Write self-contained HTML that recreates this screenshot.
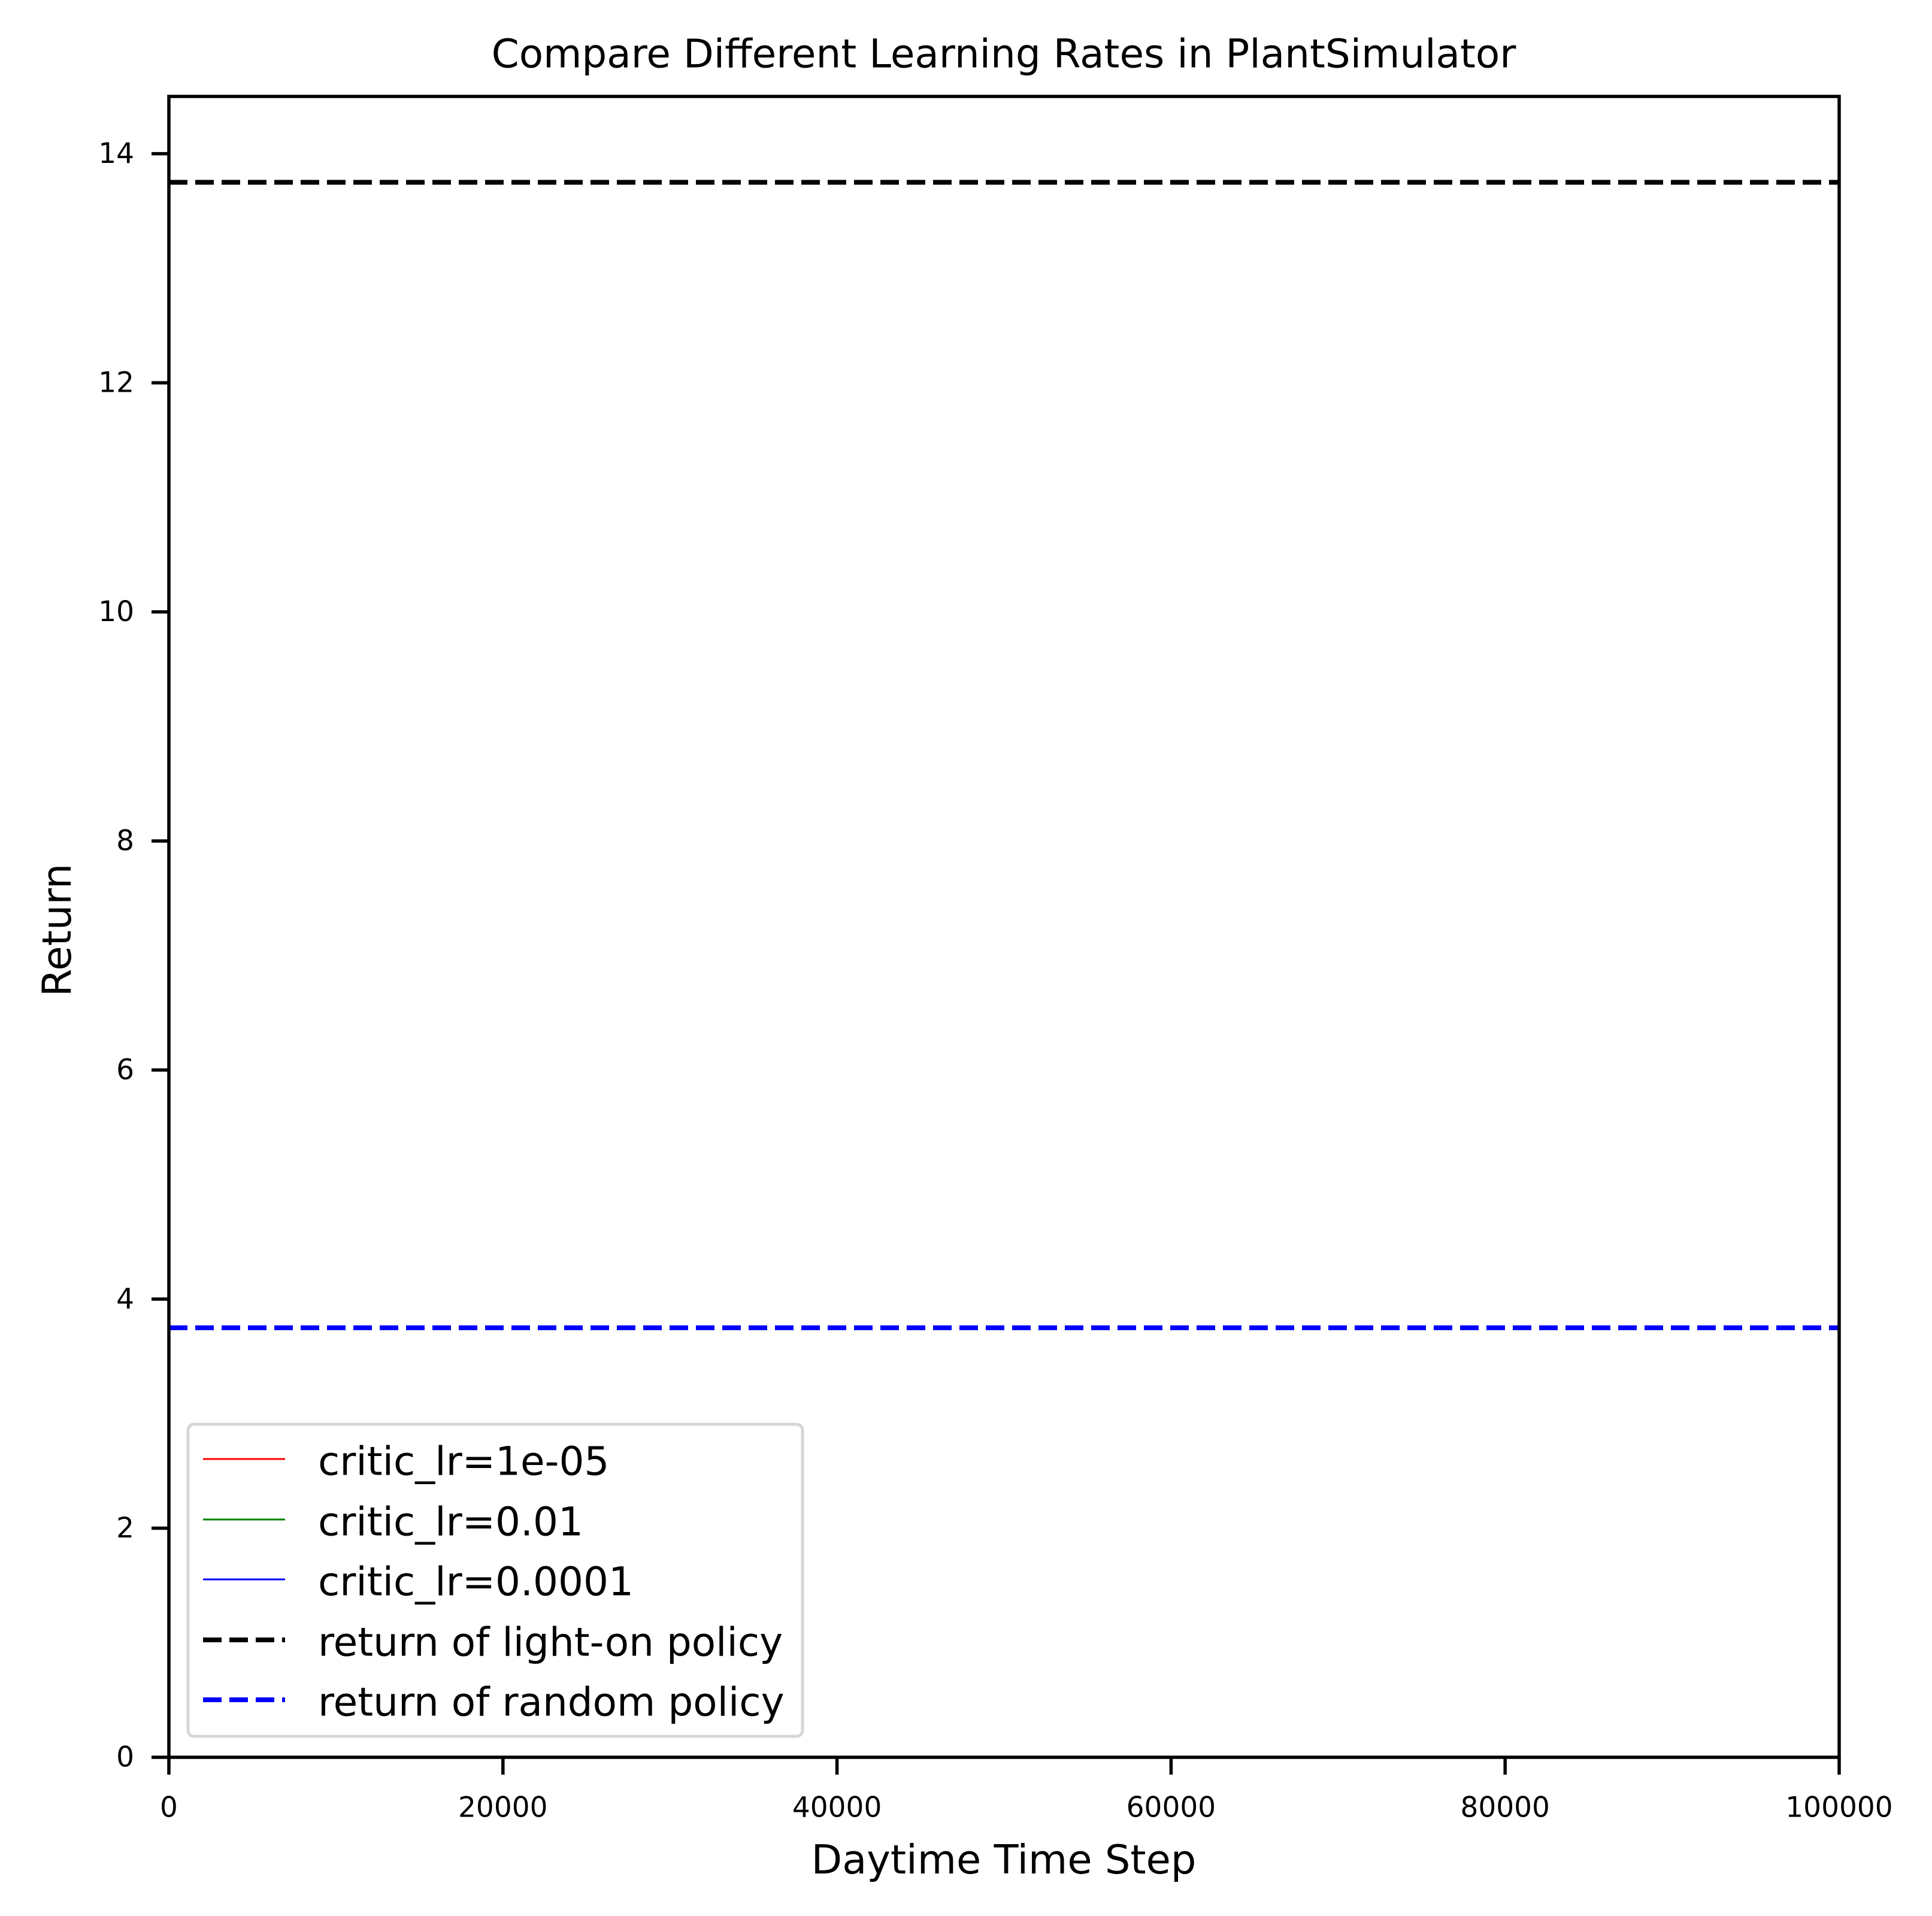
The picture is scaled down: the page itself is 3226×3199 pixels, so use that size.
<!DOCTYPE html>
<html><head><meta charset="utf-8"><style>
html,body{margin:0;padding:0;background:#fff}
svg{display:block;font-family:"DejaVu Sans","Liberation Sans",sans-serif}
</style></head><body>
<svg id="chart" width="3226" height="3199" viewBox="0 0 3226 3199">
<rect x="0" y="0" width="3226" height="3199" fill="#fff"/>
<text x="1676" y="90" font-size="66" text-anchor="middle" dominant-baseline="central">Compare Different Learning Rates in PlantSimulator</text>
<g id="plot"></g>
<text x="1676" y="3105" font-size="67" text-anchor="middle" dominant-baseline="central">Daytime Time Step</text>
<text x="0" y="0" font-size="67" text-anchor="middle" dominant-baseline="central" transform="translate(95,1553) rotate(-90)">Return</text>
</svg>
<script>
const xTicks = [0, 20000, 40000, 60000, 80000, 100000];
const yTicks = [0, 2, 4, 6, 8, 10, 12, 14];
const baselineNames = ['return of light-on policy', 'return of random policy'];
const baselineValues = [13.75, 3.75];
const baselineColors = ['#000000', '#0000ff'];
const seriesNames = ['critic_lr=1e-05', 'critic_lr=0.01', 'critic_lr=0.0001'];
const seriesColors = ['#ff0000', '#008000', '#0000ff'];
const xDomain = [0, 100000];
const yDomain = [0, 14.5];

const L = 282, R = 3071, T = 161, B = 2934;
const sx = v => L + (v - xDomain[0]) / (xDomain[1] - xDomain[0]) * (R - L);
const sy = v => B - (v - yDomain[0]) / (yDomain[1] - yDomain[0]) * (B - T);
const NS = 'http://www.w3.org/2000/svg';
const g = document.getElementById('plot');
function mk(tag, attrs, parent) {
  const e = document.createElementNS(NS, tag);
  for (const k in attrs) e.setAttribute(k, attrs[k]);
  (parent || g).appendChild(e);
  return e;
}

baselineValues.forEach((v, i) => {
  const ln = mk('line', {x1: sx(xDomain[0]), x2: sx(xDomain[1]), y1: sy(v), y2: sy(v), stroke: baselineColors[i], 'stroke-width': 8, 'stroke-dasharray': '31 13'});
  
  
});

const frame = mk('rect', {x: L, y: T, width: R - L, height: B - T, fill: 'none', stroke: '#000', 'stroke-width': 5.5});



xTicks.forEach(v => {
  const t = mk('line', {x1: sx(v), x2: sx(v), y1: B, y2: B + 29, stroke: '#000', 'stroke-width': 5.5});
  
  
  const tx = mk('text', {x: sx(v), y: B + 84, 'font-size': 47, 'text-anchor': 'middle', 'dominant-baseline': 'central'});
  tx.textContent = String(v);
  
  
});
yTicks.forEach(v => {
  const t = mk('line', {x1: L - 29, x2: L, y1: sy(v), y2: sy(v), stroke: '#000', 'stroke-width': 5.5});
  
  
  const tx = mk('text', {x: L - 58, y: sy(v), 'font-size': 47, 'text-anchor': 'end', 'dominant-baseline': 'central'});
  tx.textContent = String(v);
  
  
});

const leg = mk('g', {});


const box = mk('rect', {x: 314, y: 2378, width: 1026, height: 521, rx: 10, fill: '#fff', 'fill-opacity': 0.8, stroke: '#d6d6d6', 'stroke-width': 5}, leg);


const rowsY = [2436, 2537, 2637, 2738, 2838];
const entries = seriesNames.map((n, i) => ({n, c: seriesColors[i], dash: false}))
  .concat(baselineNames.map((n, i) => ({n, c: baselineColors[i], dash: true})));
entries.forEach((e, i) => {
  const y = rowsY[i];
  const h = mk('line', {x1: 339, x2: 476, y1: y, y2: y, stroke: e.c, 'stroke-width': e.dash ? 8 : 3}, leg);
  if (e.dash) h.setAttribute('stroke-dasharray', '31 13');
  
  
  const t = mk('text', {x: 531, y: y + 4, 'font-size': 66, 'dominant-baseline': 'central'}, leg);
  t.textContent = e.n;
  
  
});
</script>
</body></html>
